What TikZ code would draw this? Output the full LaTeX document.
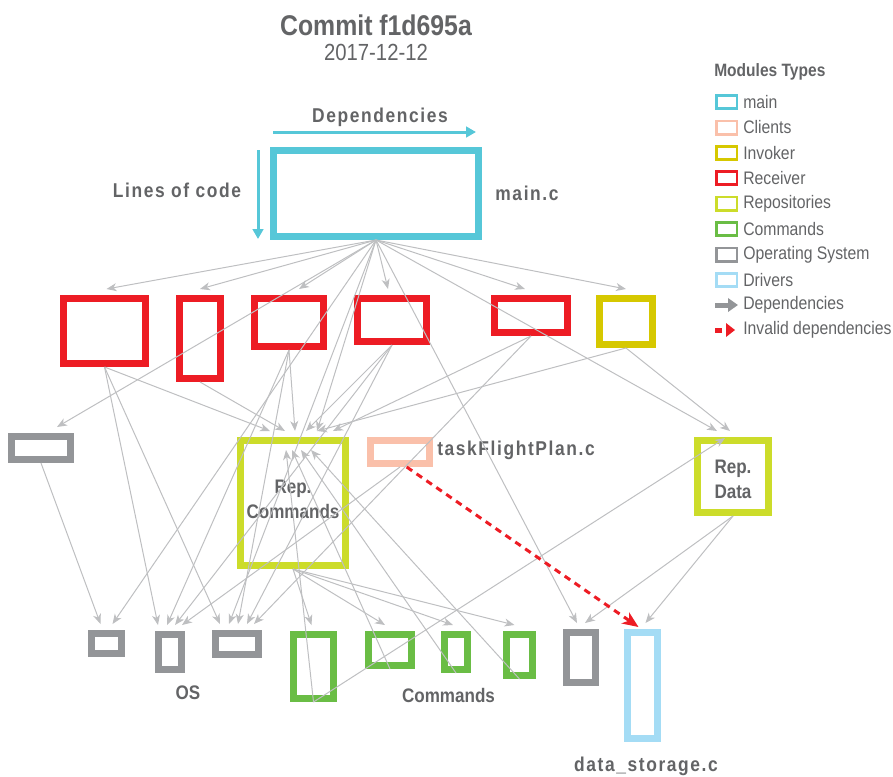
\documentclass[tikz,border=0pt]{standalone}
\usepackage{fontspec}
\setmainfont{Liberation Sans}[FakeStretch=0.87]
\newfontfamily\spcfont{Liberation Sans}[FakeStretch=0.87,LetterSpace=8]
\usetikzlibrary{arrows.meta}
\definecolor{cmain}{RGB}{86,199,216}
\definecolor{cclient}{RGB}{250,192,170}
\definecolor{cinv}{RGB}{214,200,0}
\definecolor{crecv}{RGB}{237,28,36}
\definecolor{crepo}{RGB}{204,220,42}
\definecolor{ccmd}{RGB}{106,189,69}
\definecolor{cos}{RGB}{147,149,152}
\definecolor{cdrv}{RGB}{164,220,245}
\definecolor{cedge}{RGB}{190,191,193}
\definecolor{ctext}{RGB}{99,100,102}
\tikzset{
  mbox/.style n args={3}{draw=#1,line width=5.25pt,outer sep=2.625pt,inner sep=0pt,
    minimum width=#2*0.75pt,minimum height=#3*0.75pt},
  lgbox/.style={draw=#1,line width=1.9pt,inner sep=0pt,minimum width=15.4pt,minimum height=10.1pt},
  txt/.style={text=ctext,inner sep=0pt},
  lgtxt/.style={txt,anchor=west,font=\fontsize{13.6}{15}\selectfont},
  spclbl/.style={txt,font=\fontsize{15}{18}\selectfont\spcfont\bfseries},
  boxlbl/.style={txt,align=center,font=\fontsize{14.7}{18.75}\selectfont\bfseries},
  edge/.style={draw=cedge,line width=0.75pt,-{Stealth[length=7.5pt,width=6pt,inset=2.2pt]}},
  bad/.style={draw=crecv,line width=2.25pt,dash pattern=on 5pt off 4pt,-{Stealth[length=12pt,width=10pt,inset=3.5pt]}},
  cyanarrow/.style={draw=cmain,line width=2.25pt,-{Triangle[length=7.5pt,width=8pt]}}
}
\newcommand\dep[4]{\draw[edge] (#1.south) -- ([xshift=#3*0.75pt,yshift=#4*0.75pt]#2.north);}
\begin{document}
\begin{tikzpicture}[x=0.75pt,y=-0.75pt]
\useasboundingbox (0,0) rectangle (893,776);

% title
\node[txt,font=\fontsize{21.4}{24}\selectfont\bfseries] (title) at (376,25) {Commit f1d695a};
\node[txt,font=\fontsize{17.5}{20}\selectfont] (date) at (376,52) {2017-12-12};

% axes hints
\node[spclbl] (deplbl) at (380,117) {Dependencies};
\coordinate (depA) at (273,132);
\coordinate (depB) at (476,132);
\draw[cyanarrow] (depA) -- (depB);
\node[spclbl] (loclbl) at (177,190) {Lines of code};
\coordinate (locA) at (258,150);
\coordinate (locB) at (258,239);
\draw[cyanarrow] (locA) -- (locB);

% boxes
\node[mbox={cmain}{205}{86}] (main) at (376,193.5) {};
\node[spclbl] (mainlbl) at (527,193) {main.c};

\node[mbox={crecv}{82}{65}] (R1) at (104.5,331) {};
\node[mbox={crecv}{41}{80}] (R2) at (200,338.5) {};
\node[mbox={crecv}{69}{48}] (R3) at (289,322.5) {};
\node[mbox={crecv}{69}{43}] (R4) at (392,320) {};
\node[mbox={crecv}{73}{34}] (R5) at (531,315.5) {};
\node[mbox={cinv}{53}{46}] (Inv) at (626,321.5) {};

\node[mbox={cos}{59}{23}] (OSr3) at (41,448) {};
\node[mbox={crepo}{105}{125}] (RepCmd) at (293,503) {};
\node[boxlbl] (RepCmdLbl) at (293,499) {Rep.\\Commands};
\node[mbox={cclient}{59}{23}] (TFP) at (400,452) {};
\node[spclbl,anchor=west] (TFPlbl) at (437,450) {taskFlightPlan.c};
\node[mbox={crepo}{71}{72}] (RepData) at (733,476.5) {};
\node[boxlbl] (RepDataLbl) at (733,479.5) {Rep.\\Data};

\node[mbox={cos}{30}{20}] (OS1) at (106.5,643.5) {};
\node[mbox={cos}{23}{35}] (OS2) at (170,652) {};
\node[mbox={cos}{43}{21}] (OS3) at (237,644) {};
\node[mbox={ccmd}{40}{64}] (C1) at (313.5,666.5) {};
\node[mbox={ccmd}{43}{31}] (C2) at (390,650) {};
\node[mbox={ccmd}{23}{35}] (C3) at (456,652) {};
\node[mbox={ccmd}{26}{41}] (C4) at (519.5,655) {};
\node[mbox={cos}{29}{50}] (OS4) at (581,657.5) {};
\node[mbox={cdrv}{30}{106}] (Drv) at (642.5,685.5) {};

\node[boxlbl] (oslbl) at (188,693) {OS};
\node[boxlbl] (cmdlbl) at (448.5,695) {Commands};
\node[spclbl] (drvlbl) at (646,766) {data\_storage.c};

% edges from main
\dep{main}{R1}{2}{6}
\dep{main}{R2}{0}{6}
\dep{main}{R3}{10}{6}
\dep{main}{R4}{-4}{6}
\dep{main}{R5}{-6}{6}
\dep{main}{Inv}{0}{6}
\dep{main}{OSr3}{16}{6}
\dep{main}{RepCmd}{24}{6}
\dep{main}{RepData}{-16}{6}
\dep{main}{OS1}{6}{6}
\dep{main}{OS3}{-8}{6}
\dep{main}{OS4}{-4}{6}
% receivers
\dep{R1}{RepCmd}{-23}{6}
\dep{R1}{OS2}{-12}{6}
\dep{R1}{OS3}{-17}{6}
\dep{R2}{RepCmd}{-8}{6}
\dep{R3}{RepCmd}{2}{6}
\dep{R3}{OS2}{-3}{6}
\dep{R3}{OS3}{1}{6}
\dep{R4}{RepCmd}{13}{6}
\dep{R4}{OS2}{5}{6}
\dep{R4}{OS3}{10}{6}
\dep{R5}{RepCmd}{40}{6}
\dep{R5}{OS3}{17}{6}
\dep{Inv}{RepCmd}{24}{6}
\dep{Inv}{RepData}{-3}{6}
% row 3
\dep{OSr3}{OS1}{-6}{6}
\dep{RepCmd}{C1}{-2}{6}
\dep{RepCmd}{C2}{-5}{6}
\dep{RepCmd}{C3}{-3}{6}
\dep{RepCmd}{C4}{-5}{6}
\dep{TFP}{OS2}{12}{6}
\dep{RepData}{OS4}{4}{6}
\dep{RepData}{Drv}{3}{6}
% commands back to repositories
\dep{C1}{RepCmd}{-7}{-13}
\dep{C2}{RepCmd}{-1}{-13}
\dep{C3}{RepCmd}{8}{-13}
\dep{C4}{RepCmd}{18}{-13}
\dep{C1}{RepData}{-8}{-1}
% invalid dependency
\draw[bad] ([xshift=5pt]TFP.south) -- ([xshift=-3pt,yshift=1.5pt]Drv.north);

% legend
\node[txt,anchor=west,font=\fontsize{13.4}{15}\selectfont\bfseries] (lgtitle) at (714,72) {Modules Types};
\node[lgbox=cmain] (lg1) at (726.5,102) {};
\node[lgtxt] (lt1) at (743,102) {main};
\node[lgbox=cclient] (lg2) at (726.5,127.5) {};
\node[lgtxt] (lt2) at (743,127.5) {Clients};
\node[lgbox=cinv] (lg3) at (726.5,153) {};
\node[lgtxt] (lt3) at (743,153) {Invoker};
\node[lgbox=crecv] (lg4) at (726.5,178) {};
\node[lgtxt] (lt4) at (743,178) {Receiver};
\node[lgbox=crepo] (lg5) at (726.5,203.5) {};
\node[lgtxt] (lt5) at (743,203.5) {Repositories};
\node[lgbox=ccmd] (lg6) at (726.5,229) {};
\node[lgtxt] (lt6) at (743,229) {Commands};
\node[lgbox=cos] (lg7) at (726.5,254.5) {};
\node[lgtxt] (lt7) at (743,254.5) {Operating System};
\node[lgbox=cdrv] (lg8) at (726.5,280) {};
\node[lgtxt] (lt8) at (743,280) {Drivers};
\coordinate (lgA) at (715,305);
\coordinate (lgB) at (738,305);
\draw[cos,line width=3.75pt,-{Triangle[length=7.5pt,width=10pt]}] (lgA) -- (lgB);
\node[lgtxt] (lt9) at (743,305) {Dependencies};
\fill[crecv] (715,327.5) rectangle (722,332.5);
\fill[crecv] (726,323) -- (735,330) -- (726,337) -- cycle;
\node[lgtxt] (lt10) at (743,330) {Invalid dependencies};
\end{tikzpicture}
\end{document}
